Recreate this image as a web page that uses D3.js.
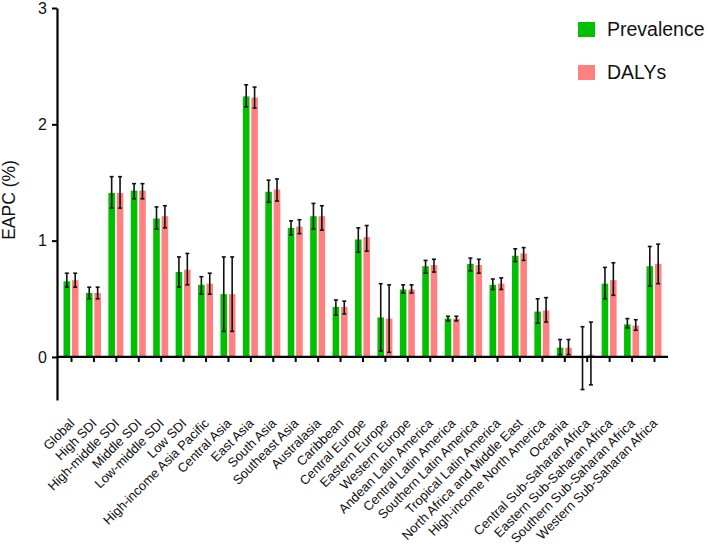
<!DOCTYPE html>
<html>
<head>
<meta charset="utf-8">
<script src="https://cdn.jsdelivr.net/npm/d3@7"></script>
<style>
  html, body { margin: 0; padding: 0; background: #fff; }
  svg { display: block; font-family: "Liberation Sans", Arial, sans-serif; }
</style>
</head>
<body>
<svg id="chart" width="708" height="551"></svg>
<script>
const categories = ["Global","High SDI","High-middle SDI","Middle SDI","Low-middle SDI","Low SDI",
  "High-income Asia Pacific","Central Asia","East Asia","South Asia","Southeast Asia","Australasia",
  "Caribbean","Central Europe","Eastern Europe","Western Europe","Andean Latin America",
  "Central Latin America","Southern Latin America","Tropical Latin America",
  "North Africa and Middle East","High-income North America","Oceania",
  "Central Sub-Saharan Africa","Eastern Sub-Saharan Africa","Southern Sub-Saharan Africa",
  "Western Sub-Saharan Africa"];

const prevalence = [0.65,0.55,1.41,1.43,1.19,0.73,0.62,0.54,2.24,1.42,1.11,1.21,0.43,1.01,0.34,0.58,0.78,0.33,0.80,0.62,0.87,0.39,0.08,-0.01,0.63,0.28,0.78];
const prevLow    = [0.60,0.50,1.28,1.36,1.10,0.60,0.54,0.22,2.15,1.33,1.05,1.10,0.36,0.90,0.05,0.55,0.72,0.31,0.74,0.58,0.82,0.29,0.02,-0.28,0.50,0.25,0.61];
const prevHigh   = [0.72,0.60,1.55,1.49,1.29,0.86,0.69,0.86,2.34,1.52,1.17,1.32,0.49,1.11,0.63,0.62,0.83,0.35,0.85,0.67,0.93,0.50,0.15,0.26,0.77,0.33,0.95];

const dalys      = [0.66,0.55,1.41,1.43,1.21,0.75,0.63,0.54,2.23,1.44,1.12,1.21,0.43,1.03,0.33,0.58,0.79,0.33,0.79,0.63,0.89,0.40,0.08,0.02,0.66,0.27,0.80];
const dalyLow    = [0.60,0.50,1.28,1.36,1.11,0.62,0.54,0.22,2.14,1.34,1.06,1.09,0.37,0.91,0.04,0.55,0.73,0.31,0.72,0.58,0.83,0.30,0.02,-0.24,0.53,0.23,0.63];
const dalyHigh   = [0.72,0.60,1.55,1.49,1.30,0.89,0.72,0.86,2.32,1.53,1.18,1.30,0.48,1.13,0.62,0.62,0.84,0.35,0.84,0.68,0.94,0.51,0.15,0.30,0.81,0.32,0.97];

const yTicks = [0, 1, 2, 3];
const seriesNames = ["Prevalence", "DALYs"];
const seriesColors = ["#00c000", "#ff8080"];

const svg = d3.select("#chart");

const x = d3.scalePoint().domain(categories).range([57, 668]).padding(0.625);
const y = d3.scaleLinear().domain([-0.37, 3]).range([400, 8]);

const barW = 6.6;
const offsets = [-4.2, 4.2];

const series = [
  { vals: prevalence, lo: prevLow, hi: prevHigh },
  { vals: dalys, lo: dalyLow, hi: dalyHigh }
];

// bars
series.forEach((s, si) => {
  svg.append("g").selectAll("rect")
    .data(categories)
    .join("rect")
    .attr("x", (c) => x(c) + offsets[si] - barW / 2)
    .attr("y", (c, i) => y(Math.max(0, s.vals[i])))
    .attr("width", barW)
    .attr("height", (c, i) => Math.abs(y(s.vals[i]) - y(0)))
    .attr("fill", seriesColors[si]);
});

// error bars
series.forEach((s, si) => {
  const g = svg.append("g").attr("stroke", "#111").attr("stroke-width", 1.6).attr("fill", "none");
  categories.forEach((c, i) => {
    const cx = x(c) + offsets[si];
    g.append("line").attr("x1", cx).attr("x2", cx).attr("y1", y(s.lo[i])).attr("y2", y(s.hi[i]));
    g.append("line").attr("x1", cx - 2).attr("x2", cx + 2).attr("y1", y(s.lo[i])).attr("y2", y(s.lo[i]));
    g.append("line").attr("x1", cx - 2).attr("x2", cx + 2).attr("y1", y(s.hi[i])).attr("y2", y(s.hi[i]));
  });
});

// x axis
const xAxis = svg.append("g")
  .attr("transform", `translate(0,${y(0)})`)
  .call(d3.axisBottom(x).tickSize(5).tickSizeOuter(0).tickFormat(""));
xAxis.select(".domain").attr("d", "M57,0H668").attr("stroke", "#000").attr("stroke-width", 2.2);
xAxis.selectAll(".tick line").attr("stroke", "#000").attr("stroke-width", 2);

// y axis
const yAxis = svg.append("g")
  .attr("transform", "translate(57,0)")
  .call(d3.axisLeft(y).tickValues(yTicks).tickSize(5).tickSizeOuter(0).tickPadding(5).tickFormat(d3.format("d")));
yAxis.select(".domain").attr("stroke", "#000").attr("stroke-width", 2.2);
yAxis.selectAll(".tick line").attr("stroke", "#000").attr("stroke-width", 2);
yAxis.selectAll(".tick text").attr("font-size", 16).attr("fill", "#111")
  .attr("font-family", "'Liberation Sans', Arial, sans-serif");

// y label
svg.append("text")
  .attr("transform", "translate(15,200) rotate(-90)")
  .attr("text-anchor", "middle")
  .attr("font-size", 17.5)
  .attr("fill", "#111")
  .text("EAPC (%)");

// category labels
svg.append("g").selectAll("text")
  .data(categories)
  .join("text")
  .attr("transform", (c) => `translate(${x(c) + 1},${421}) rotate(-45)`)
  .attr("text-anchor", "end")
  .attr("dy", "0.35em")
  .attr("font-size", 13)
  .attr("fill", "#111")
  .text((c) => c);

// legend
const legend = svg.append("g");
seriesNames.forEach((n, i) => {
  const ly = 22 + i * 43;
  legend.append("rect").attr("x", 578).attr("y", ly).attr("width", 17).attr("height", 15).attr("fill", seriesColors[i]);
  legend.append("text").attr("x", 607).attr("y", ly + 7.5).attr("dy", "0.35em")
    .attr("font-size", 19.5).attr("fill", "#111").text(n);
});
</script>
</body>
</html>
